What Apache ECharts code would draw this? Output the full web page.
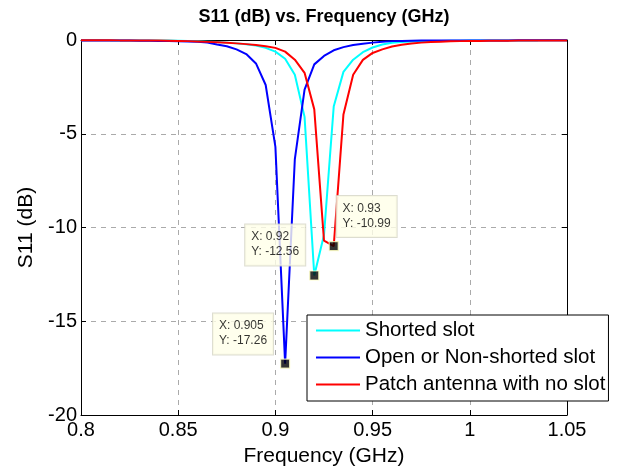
<!DOCTYPE html>
<html>
<head>
<meta charset="utf-8">
<script src="https://cdn.jsdelivr.net/npm/echarts@6/dist/echarts.min.js"></script>
<style>html,body{margin:0;padding:0;background:#fff}#c{width:618px;height:472px}</style>
</head>
<body>
<div id="c"></div>
<script>
const freq = [0.800,0.805,0.810,0.815,0.820,0.825,0.830,0.835,0.840,0.845,
  0.850,0.855,0.860,0.865,0.870,0.875,0.880,0.885,0.890,0.895,
  0.900,0.905,0.910,0.915,0.920,0.925,0.930,0.935,0.940,0.945,
  0.950,0.955,0.960,0.965,0.970,0.975,0.980,0.985,0.990,0.995,
  1.000,1.005,1.010,1.015,1.020,1.025,1.030,1.035,1.040,1.045,1.050];
const shortedSlot = [-0.01,-0.01,-0.01,-0.02,-0.02,-0.02,-0.02,-0.03,-0.03,-0.03,
  -0.04,-0.05,-0.07,-0.09,-0.11,-0.14,-0.18,-0.23,-0.30,-0.42,
  -0.62,-1.00,-1.85,-4.10,-12.56,-10.40,-3.55,-1.70,-1.05,-0.65,
  -0.40,-0.24,-0.15,-0.11,-0.08,-0.07,-0.06,-0.05,-0.04,-0.04,
  -0.03,-0.03,-0.03,-0.02,-0.02,-0.02,-0.02,-0.02,-0.01,-0.01,-0.01];
const openSlot = [-0.02,-0.02,-0.02,-0.03,-0.03,-0.03,-0.04,-0.04,-0.05,-0.06,
  -0.07,-0.08,-0.10,-0.14,-0.24,-0.33,-0.50,-0.75,-1.25,-2.40,
  -5.70,-17.26,-6.35,-2.65,-1.30,-0.85,-0.55,-0.38,-0.27,-0.20,
  -0.14,-0.09,-0.06,-0.05,-0.04,-0.03,-0.03,-0.03,-0.02,-0.02,
  -0.02,-0.02,-0.02,-0.02,-0.02,-0.01,-0.01,-0.01,-0.01,-0.01,-0.01];
const noSlot = [-0.01,-0.01,-0.01,-0.01,-0.02,-0.02,-0.02,-0.03,-0.03,-0.04,
  -0.05,-0.06,-0.08,-0.10,-0.12,-0.15,-0.18,-0.22,-0.27,-0.33,
  -0.42,-0.62,-1.05,-1.75,-3.70,-10.70,-10.99,-3.97,-1.85,-1.06,
  -0.69,-0.50,-0.35,-0.25,-0.19,-0.14,-0.11,-0.09,-0.07,-0.06,
  -0.05,-0.05,-0.04,-0.04,-0.04,-0.03,-0.03,-0.03,-0.02,-0.02,-0.02];
const seriesNames = ['Shorted slot','Open or Non-shorted slot','Patch antenna with no slot'];
const tipX = [0.905, 0.92, 0.93];
const tipY = [-17.26, -12.56, -10.99];
const xTicks = [0.8, 0.85, 0.9, 0.95, 1, 1.05];
const yTicks = [-20, -15, -10, -5, 0];

const FONT = 'Arial, "Liberation Sans", sans-serif';
const colors = ['#00ffff', '#0000ff', '#ff0000'];
const tipOffsets = [[-67, -45], [-64, -46], [8, -45]];

const seriesData = [shortedSlot, openSlot, noSlot];
const lineSeries = seriesData.map((vals, i) => ({
  name: seriesNames[i],
  type: 'line',
  data: freq.map((f, k) => [f, vals[k]]),
  symbol: 'none',
  lineStyle: {color: colors[i], width: 2},
  itemStyle: {color: colors[i]},
  animation: false,
  z: 3
}));

const tipSeries = {
  name: 'tips',
  type: 'scatter',
  symbol: 'rect',
  symbolSize: 9,
  itemStyle: {color: '#000', borderColor: '#ffffc0', borderWidth: 1.2},
  z: 10,
  animation: false,
  data: tipX.map((x, i) => ({
    value: [x, tipY[i]],
    label: {
      show: true,
      position: tipOffsets[i],
      align: 'left',
      verticalAlign: 'top',
      formatter: 'X: ' + x + '\nY: ' + tipY[i].toFixed(2),
      fontFamily: FONT,
      fontSize: 12,
      lineHeight: 15,
      color: '#000',
      backgroundColor: '#ffffe8',
      borderColor: '#d4d4c4',
      borderWidth: 1,
      padding: [5, 6, 6, 6]
    }
  }))
};

const axisCommonX = {
  type: 'value', min: xTicks[0], max: xTicks[xTicks.length - 1], interval: 0.05,
  axisLine: {show: true, onZero: false, lineStyle: {color: '#000', width: 1}},
  axisTick: {show: true, inside: true, length: 5, lineStyle: {color: '#000'}}
};
const axisCommonY = {
  type: 'value', min: yTicks[0], max: yTicks[yTicks.length - 1], interval: 5,
  axisLine: {show: true, onZero: false, lineStyle: {color: '#000', width: 1}},
  axisTick: {show: true, inside: true, length: 5, lineStyle: {color: '#000'}}
};

const option = {
  backgroundColor: '#fff',
  animation: false,
  title: {
    text: 'S11 (dB) vs. Frequency (GHz)',
    left: 324, top: 8, textAlign: 'center', padding: 0,
    textStyle: {fontFamily: FONT, fontSize: 18, fontWeight: 'bold', color: '#000'}
  },
  grid: {left: 81, right: 51, top: 40, bottom: 54, containLabel: false},
  legend: {
    data: seriesNames,
    orient: 'vertical',
    left: 307, top: 315,
    padding: [5, 3, 6, 9],
    icon: 'rect',
    itemWidth: 44, itemHeight: 2, itemGap: 6,
    backgroundColor: '#fff',
    borderColor: '#000', borderWidth: 1,
    textStyle: {fontFamily: FONT, fontSize: 20.5, color: '#000', lineHeight: 21},
    selectedMode: false,
    z: 20
  },
  xAxis: [
    Object.assign({}, axisCommonX, {
      position: 'bottom',
      name: 'Frequency (GHz)', nameLocation: 'middle', nameGap: 31,
      nameTextStyle: {fontFamily: FONT, fontSize: 21, color: '#000'},
      axisLabel: {fontFamily: FONT, fontSize: 20, color: '#000', margin: 5},
      splitLine: {show: true, lineStyle: {color: '#aaaaaa', type: [5, 5], width: 1}}
    }),
    Object.assign({}, axisCommonX, {
      position: 'top', axisLabel: {show: false}, splitLine: {show: false}
    })
  ],
  yAxis: [
    Object.assign({}, axisCommonY, {
      position: 'left',
      name: 'S11 (dB)', nameLocation: 'middle', nameGap: 43, nameRotate: 90,
      nameTextStyle: {fontFamily: FONT, fontSize: 21, color: '#000'},
      axisLabel: {fontFamily: FONT, fontSize: 20, color: '#000', margin: 4},
      splitLine: {show: true, lineStyle: {color: '#aaaaaa', type: [5, 5], width: 1}}
    }),
    Object.assign({}, axisCommonY, {
      position: 'right', axisLabel: {show: false}, splitLine: {show: false}
    })
  ],
  series: lineSeries.concat([tipSeries])
};

const chart = echarts.init(document.getElementById('c'), null, {renderer: 'canvas'});
chart.setOption(option);
</script>
</body>
</html>
